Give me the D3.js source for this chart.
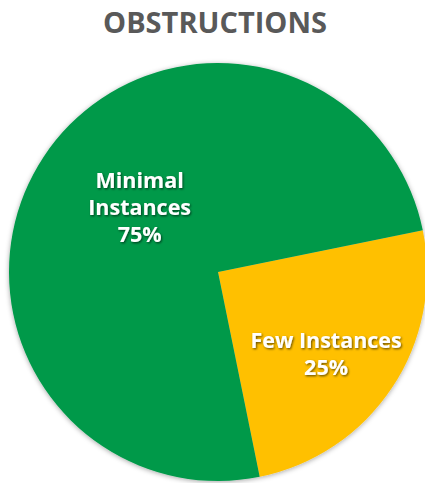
<!DOCTYPE html>
<html>
<head>
<meta charset="utf-8">
<script src="https://cdn.jsdelivr.net/npm/d3@7"></script>
<style>
  html, body { margin: 0; padding: 0; background: #fff; }
  svg { display: block; }
</style>
</head>
<body>
<svg id="chart" width="425" height="483"></svg>
<script>
// Obstructions breakdown
const categories = ["Few Instances", "Minimal Instances"];
const shares = [25, 75];
const colors = ["#FFC000", "#00994A"];
const labelLines = [["Few Instances", "25%"], ["Minimal", "Instances", "75%"]];

const W = 425, H = 483;
const cx = 218, cy = 272, R = 209;
const startDeg = 78.5;

const svg = d3.select("#chart");

const defs = svg.append("defs");
const pieShadow = defs.append("filter").attr("id", "pieShadow")
  .attr("x", "-10%").attr("y", "-10%").attr("width", "120%").attr("height", "120%");
pieShadow.append("feDropShadow")
  .attr("dx", 0).attr("dy", 1).attr("stdDeviation", 2.5)
  .attr("flood-color", "#000").attr("flood-opacity", 0.35);

const textShadow = defs.append("filter").attr("id", "textShadow")
  .attr("x", "-10%").attr("y", "-30%").attr("width", "120%").attr("height", "160%");
textShadow.append("feDropShadow")
  .attr("dx", 1).attr("dy", 1.2).attr("stdDeviation", 0.9)
  .attr("flood-color", "#000").attr("flood-opacity", 0.6);

svg.append("text")
  .attr("x", 215).attr("y", 33)
  .attr("text-anchor", "middle")
  .attr("font-family", "'Open Sans', sans-serif")
  .attr("font-weight", 700)
  .attr("font-size", 29)
  .attr("fill", "#595959")
  .text("OBSTRUCTIONS");

const pie = d3.pie()
  .sort(null)
  .value(d => d)
  .startAngle(startDeg * Math.PI / 180)
  .endAngle((startDeg + 360) * Math.PI / 180);

const arcs = pie(shares);
const arc = d3.arc().innerRadius(0).outerRadius(R);

const g = svg.append("g").attr("transform", `translate(${cx},${cy})`);

g.append("g").attr("filter", "url(#pieShadow)")
  .selectAll("path")
  .data(arcs)
  .join("path")
  .attr("d", arc)
  .attr("fill", (d, i) => colors[i]);

// best-fit label placement: centroid on a ring, then a small nudge
const labelRadius = [150, 100];
const labelNudge = [[-17, 0], [5, -9]];
const lineH = 27;
arcs.forEach((a, i) => {
  const la = d3.arc().innerRadius(labelRadius[i]).outerRadius(labelRadius[i]);
  const [px, py] = la.centroid(a);
  const lx = px + labelNudge[i][0], ly = py + labelNudge[i][1];
  const lines = labelLines[i];
  const t = g.append("text")
    .attr("text-anchor", "middle")
    .attr("font-family", "'Open Sans', sans-serif")
    .attr("font-weight", 700)
    .attr("font-size", 21.5)
    .attr("fill", "#fff")
    .attr("filter", "url(#textShadow)");
  lines.forEach((s, k) => {
    t.append("tspan")
      .attr("x", lx)
      .attr("y", ly + (k - (lines.length - 1) / 2) * lineH + 7)
      .text(s);
  });
});
</script>
</body>
</html>
